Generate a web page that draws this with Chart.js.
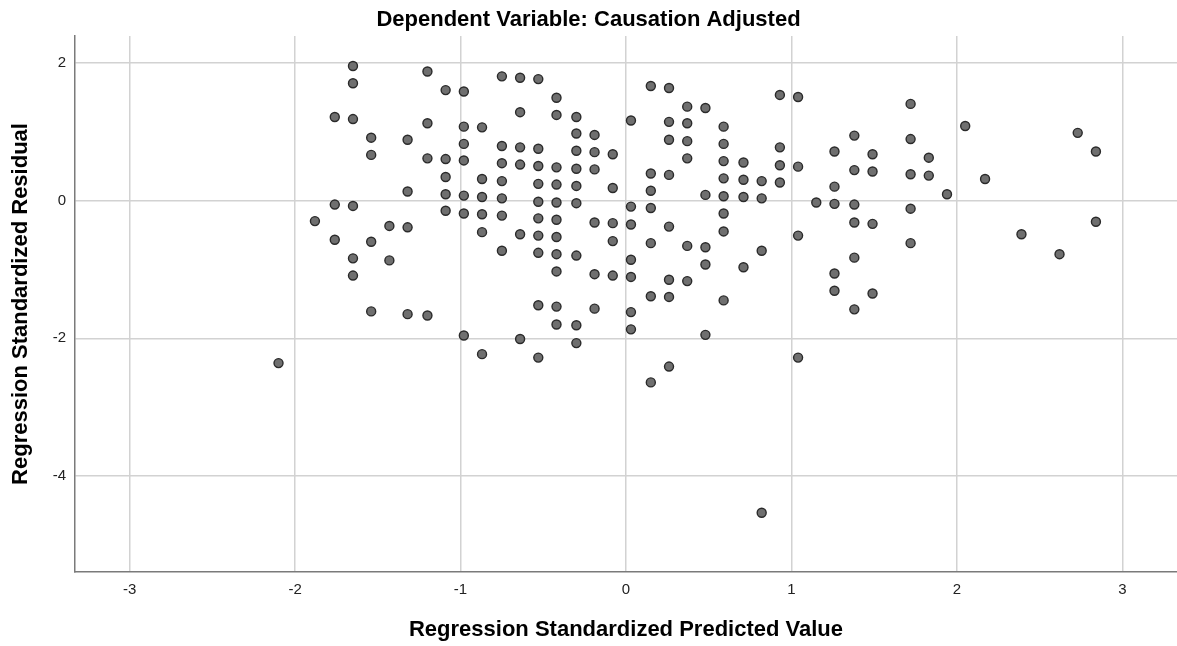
<!DOCTYPE html>
<html lang="en">
  <head>
    <meta charset="UTF-8" />
    <title>Residual scatter</title>
    <script src="https://cdn.jsdelivr.net/npm/chart.js"></script>
    <style>
      body { margin: 0; background: #fff; }
    </style>
  </head>
  <body>
    <canvas id="residChart" width="1177" height="646"></canvas>

    <script>
      // predicted value levels (x) and the residuals found at each level (y)
      const predictedLevels = [
        -2.10, -1.88, -1.76, -1.65, -1.54, -1.43, -1.32, -1.20, -1.09, -0.98,
        -0.87, -0.75, -0.64, -0.53, -0.42, -0.30, -0.19, -0.08, 0.03, 0.15,
        0.26, 0.37, 0.48, 0.59, 0.71, 0.82, 0.93, 1.04, 1.15, 1.26,
        1.38, 1.49, 1.72, 1.83, 1.94, 2.05, 2.17, 2.39, 2.62, 2.73, 2.84
      ];
      const residualsAtLevel = [
        [-2.36],
        [-0.30],
        [1.21, -0.06, -0.57],
        [1.95, 1.70, 1.18, -0.08, -0.84, -1.09],
        [0.91, 0.66, -0.60, -1.61],
        [-0.37, -0.87],
        [0.88, 0.13, -0.39, -1.65],
        [1.87, 1.12, 0.61, -1.67],
        [1.60, 0.60, 0.34, 0.09, -0.15],
        [1.58, 1.07, 0.82, 0.58, 0.07, -0.19, -1.96],
        [1.06, 0.31, 0.05, -0.20, -0.46, -2.23],
        [1.80, 0.79, 0.54, 0.28, 0.03, -0.22, -0.73],
        [1.78, 1.28, 0.77, 0.52, -0.49, -2.01],
        [1.76, 0.75, 0.50, 0.24, -0.02, -0.26, -0.51, -0.76, -1.52, -2.28],
        [1.49, 1.24, 0.48, 0.23, -0.03, -0.28, -0.53, -0.78, -1.03, -1.54, -1.80],
        [1.21, 0.97, 0.72, 0.46, 0.21, -0.04, -0.80, -1.81, -2.07],
        [0.95, 0.70, 0.45, -0.32, -1.07, -1.57],
        [0.67, 0.18, -0.33, -0.59, -1.09],
        [1.16, -0.09, -0.35, -0.86, -1.11, -1.62, -1.87],
        [1.66, 0.39, 0.14, -0.11, -0.62, -1.39, -2.64],
        [1.63, 1.14, 0.88, 0.37, -0.38, -1.15, -1.40, -2.41],
        [1.36, 1.12, 0.86, 0.61, -0.66, -1.17],
        [1.34, 0.08, -0.68, -0.93, -1.95],
        [1.07, 0.82, 0.57, 0.32, 0.06, -0.19, -0.45, -1.45],
        [0.55, 0.30, 0.05, -0.97],
        [0.28, 0.03, -0.73, -4.53],
        [1.53, 0.77, 0.51, 0.26],
        [1.50, 0.49, -0.51, -2.28],
        [-0.03],
        [0.71, 0.20, -0.05, -1.06, -1.31],
        [0.94, 0.44, -0.06, -0.32, -0.83, -1.58],
        [0.67, 0.42, -0.34, -1.35],
        [1.40, 0.89, 0.38, -0.12, -0.62],
        [0.62, 0.36],
        [0.09],
        [1.08],
        [0.31],
        [-0.49],
        [-0.78],
        [0.98],
        [0.71, -0.31]
      ];
      const xTicks = [-3, -2, -1, 0, 1, 2, 3];
      const yTicks = [2, 0, -2, -4];

      const chartTitle = "Dependent Variable: Causation Adjusted";
      const xTitle = "Regression Standardized Predicted Value";
      const yTitle = "Regression Standardized Residual";

      const points = [];
      predictedLevels.forEach((x, i) => {
        residualsAtLevel[i].forEach((y) => points.push({ x: x, y: y }));
      });

      const FONT = "'Liberation Sans', Arial, sans-serif";

      // title on top, centred on the whole picture
      const plotTitle = {
        id: "plotTitle",
        afterDraw(chart) {
          const { ctx, width } = chart;
          ctx.save();
          ctx.font = "bold 22px " + FONT;
          ctx.fillStyle = "#000";
          ctx.textAlign = "center";
          ctx.textBaseline = "middle";
          ctx.fillText(chartTitle, width / 2, 20);
          ctx.restore();
        },
      };

      const ctx = document.getElementById("residChart").getContext("2d");
      new Chart(ctx, {
        type: "scatter",
        data: {
          datasets: [
            {
              data: points,
              pointRadius: 4.5,
              pointHoverRadius: 4.5,
              pointBackgroundColor: "#6f6f6f",
              pointBorderColor: "#2a2a2a",
              pointBorderWidth: 1.4,
            },
          ],
        },
        options: {
          responsive: false,
          animation: false,
          events: [],
          layout: { autoPadding: false, padding: { top: 36, left: 0, right: 0, bottom: 0 } },
          plugins: {
            legend: { display: false },
            tooltip: { enabled: false },
          },
          scales: {
            x: {
              type: "linear",
              min: -3.33,
              max: 3.33,
              afterBuildTicks: (s) => { s.ticks = xTicks.map((v) => ({ value: v })); },
              afterFit: (s) => { s.height = 74; },
              grid: { color: "#d2d2d2", lineWidth: 1.5, drawTicks: false },
              border: { color: "#7a7a7a", width: 1.5 },
              ticks: { padding: 9, color: "#222", font: { family: FONT, size: 15 } },
              title: {
                display: true,
                text: xTitle,
                color: "#000",
                font: { family: FONT, size: 22, weight: "bold" },
                padding: { top: 0, bottom: 3 },
              },
            },
            y: {
              type: "linear",
              min: -5.39,
              max: 2.385,
              afterBuildTicks: (s) => { s.ticks = yTicks.map((v) => ({ value: v })); },
              afterFit: (s) => { s.width = 75; },
              grid: { color: "#d2d2d2", lineWidth: 1.5, drawTicks: false },
              border: { color: "#7a7a7a", width: 1.5 },
              ticks: { padding: 9, color: "#222", font: { family: FONT, size: 15 } },
              title: {
                display: true,
                text: yTitle,
                color: "#000",
                font: { family: FONT, size: 22, weight: "bold" },
                padding: { top: 8, bottom: 0 },
              },
            },
          },
        },
        plugins: [plotTitle],
      });
    </script>
  </body>
</html>
